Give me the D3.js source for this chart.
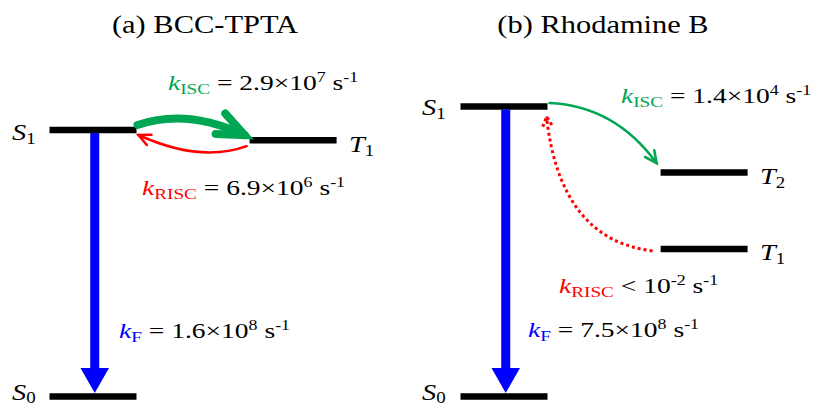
<!DOCTYPE html>
<html>
<head>
<meta charset="utf-8">
<script src="https://cdn.jsdelivr.net/npm/d3@7"></script>
<style>
  html, body { margin: 0; padding: 0; background: #fff; }
  svg { display: block; }
</style>
</head>
<body>
<svg id="chart" width="815" height="406"></svg>
<script>
// ---------------- DATA ----------------
const panelTitles = ["(a) BCC-TPTA", "(b) Rhodamine B"];

// energy levels: state letter, subscript, relative energy, column (0 = left, 1 = right)
const levelsA = [
  { state: "S", sub: "0", energy: 0.000, col: 0 },
  { state: "S", sub: "1", energy: 0.919, col: 0 },
  { state: "T", sub: "1", energy: 0.884, col: 1 }
];
const levelsB = [
  { state: "S", sub: "0", energy: 0.000, col: 0 },
  { state: "S", sub: "1", energy: 1.000, col: 0 },
  { state: "T", sub: "2", energy: 0.772, col: 1 },
  { state: "T", sub: "1", energy: 0.509, col: 1 }
];

// rate constants
const ratesA = [
  { kind: "ISC",  rel: "=", mant: "2.9×", base: "10", exp: "7" },
  { kind: "RISC", rel: "=", mant: "6.9×", base: "10", exp: "6" },
  { kind: "F",    rel: "=", mant: "1.6×", base: "10", exp: "8" }
];
const ratesB = [
  { kind: "ISC",  rel: "=", mant: "1.4×", base: "10", exp: "4" },
  { kind: "RISC", rel: "<", mant: "",     base: "10", exp: "-2" },
  { kind: "F",    rel: "=", mant: "7.5×", base: "10", exp: "8" }
];
const unitLabel = { base: "s", exp: "-1" };

// ---------------- STYLE / LAYOUT ----------------
const colors = { ISC: "#00a651", RISC: "#ff0000", F: "#0000ff", level: "#000000", text: "#000000" };
const FONT = "'Liberation Serif', 'Times New Roman', Times, serif";
const SX = 1.18;   // horizontal stretch of titles / state labels
const SXR = 1.28;  // horizontal stretch of rate labels

const svg = d3.select("#chart");

const y = d3.scaleLinear().domain([0, 1]).range([396.5, 106.5]);
const colSpan = { 0: [0, 1], 1: [2.3, 3.3] };
const panelX0 = [49.5, 460.5];
const xScales = panelX0.map(x0 => d3.scaleLinear().domain([0, 3.3]).range([x0, x0 + 287.1]));

function stretchedText(parent, x, yy, anchor, sx) {
  const g = parent.append("g").attr("transform", `translate(${x},${yy}) scale(${sx || SX},1)`);
  return g.append("text").attr("x", 0).attr("y", 0)
    .attr("font-family", FONT).attr("text-anchor", anchor || "start").attr("fill", colors.text);
}

// titles
const titleCenters = [205, 603];
panelTitles.forEach((t, i) => {
  stretchedText(svg, titleCenters[i], 33, "middle").attr("font-size", 25.8).text(t);
});

// levels
function drawLevels(levels, xs, labelPos) {
  levels.forEach((d, i) => {
    const [u0, u1] = colSpan[d.col];
    svg.append("line")
      .attr("x1", xs(u0)).attr("x2", xs(u1))
      .attr("y1", y(d.energy)).attr("y2", y(d.energy))
      .attr("stroke", colors.level).attr("stroke-width", 6.5);
    const lp = labelPos[i];
    const t = stretchedText(svg, lp[0], lp[1]).attr("font-size", 24);
    t.append("tspan").attr("font-style", "italic").text(d.state);
    t.append("tspan").attr("font-size", 16).attr("dy", lp[2] || 4).text(d.sub);
  });
}
drawLevels(levelsA, xScales[0], [[12, 400, 3], [12, 140], [349, 152]]);
drawLevels(levelsB, xScales[1], [[422, 400, 3], [422, 115], [760, 184], [760, 260]]);

// helpers
function levelY(levels, state, sub) { return y(levels.find(l => l.state === state && l.sub === sub).energy); }
function levelEnd(xs, levels, state, sub, side) {
  const l = levels.find(d => d.state === state && d.sub === sub);
  return xs(colSpan[l.col][side === "left" ? 0 : 1]);
}

function curveArrow(p0, c, p1, opt) {
  svg.append("path")
    .attr("d", `M${p0[0]},${p0[1]} Q${c[0]},${c[1]} ${p1[0]},${p1[1]}`)
    .attr("fill", "none").attr("stroke", opt.color).attr("stroke-width", opt.width)
    .attr("stroke-linecap", opt.dash ? "butt" : "round")
    .attr("stroke-dasharray", opt.dash || null);
  const ang = Math.atan2(p1[1] - c[1], p1[0] - c[0]) + Math.PI;
  const a1 = ang + opt.half, a2 = ang - opt.half;
  const L = opt.len;
  svg.append("path")
    .attr("d", `M${p1[0] + L * Math.cos(a1)},${p1[1] + L * Math.sin(a1)} L${p1[0]},${p1[1]} L${p1[0] + L * Math.cos(a2)},${p1[1] + L * Math.sin(a2)}`)
    .attr("fill", "none").attr("stroke", opt.color).attr("stroke-width", opt.width)
    .attr("stroke-linecap", opt.dash ? "butt" : "round").attr("stroke-linejoin", "miter")
    .attr("stroke-dasharray", opt.dash || null);
}

function fluorescence(xs, levels, s1sub) {
  const xc = xs(0.52);
  const yTop = levelY(levels, "S", s1sub) + 3;
  const yTip = levelY(levels, "S", "0") - 3.5;
  const headLen = 25, headW = 28.5, shaftW = 9;
  svg.append("rect").attr("x", xc - shaftW / 2).attr("y", yTop)
    .attr("width", shaftW).attr("height", yTip - headLen - yTop + 1).attr("fill", colors.F);
  svg.append("path")
    .attr("d", `M${xc - headW / 2},${yTip - headLen} L${xc + headW / 2},${yTip - headLen} L${xc},${yTip} Z`)
    .attr("fill", colors.F);
}

// panel (a) transitions
(function () {
  const xs = xScales[0], L = levelsA;
  fluorescence(xs, L, "1");
  const s1y = levelY(L, "S", "1"), t1y = levelY(L, "T", "1");
  const s1r = levelEnd(xs, L, "S", "1", "right"), t1l = levelEnd(xs, L, "T", "1", "left");
  curveArrow([s1r + 1, s1y - 5], [187, 108], [t1l - 5, t1y - 5],
    { color: colors.ISC, width: 8, len: 29, half: 0.40 });
  curveArrow([t1l - 3, t1y + 6], [200, 163], [s1r + 2, s1y + 5],
    { color: colors.RISC, width: 2.6, len: 13, half: 0.45 });
})();

// panel (b) transitions
(function () {
  const xs = xScales[1], L = levelsB;
  fluorescence(xs, L, "1");
  const s1y = levelY(L, "S", "1"), t2y = levelY(L, "T", "2"), t1y = levelY(L, "T", "1");
  const s1r = levelEnd(xs, L, "S", "1", "right"), t1l = levelEnd(xs, L, "T", "1", "left");
  curveArrow([s1r + 2, s1y - 3.5], [615, 106], [t1l - 4, t2y - 9.5],
    { color: colors.ISC, width: 2.6, len: 13, half: 0.45 });
  curveArrow([t1l - 8, t1y + 2], [560, 240], [s1r - 1, s1y + 10],
    { color: colors.RISC, width: 3, len: 11, half: 0.45, dash: "3,3" });
})();

// rate labels
function rateLabel(r, x, yy) {
  const t = stretchedText(svg, x, yy, "start", SXR).attr("font-size", 21.5);
  t.append("tspan").attr("fill", colors[r.kind]).attr("font-style", "italic").text("k");
  t.append("tspan").attr("fill", colors[r.kind]).attr("font-size", 15).attr("dy", 4).text(r.kind);
  t.append("tspan").attr("dy", -4).text(` ${r.rel} ${r.mant}${r.base}`);
  t.append("tspan").attr("font-size", 14).attr("dy", -8).text(r.exp);
  t.append("tspan").attr("dy", 8).text(` ${unitLabel.base}`);
  t.append("tspan").attr("font-size", 14).attr("dy", -8).text(unitLabel.exp);
}
const ratePosA = [[168, 90], [142, 195], [119, 338]];
const ratePosB = [[621, 103], [559, 293], [528, 337]];
ratesA.forEach((r, i) => rateLabel(r, ratePosA[i][0], ratePosA[i][1]));
ratesB.forEach((r, i) => rateLabel(r, ratePosB[i][0], ratePosB[i][1]));
</script>
</body>
</html>
